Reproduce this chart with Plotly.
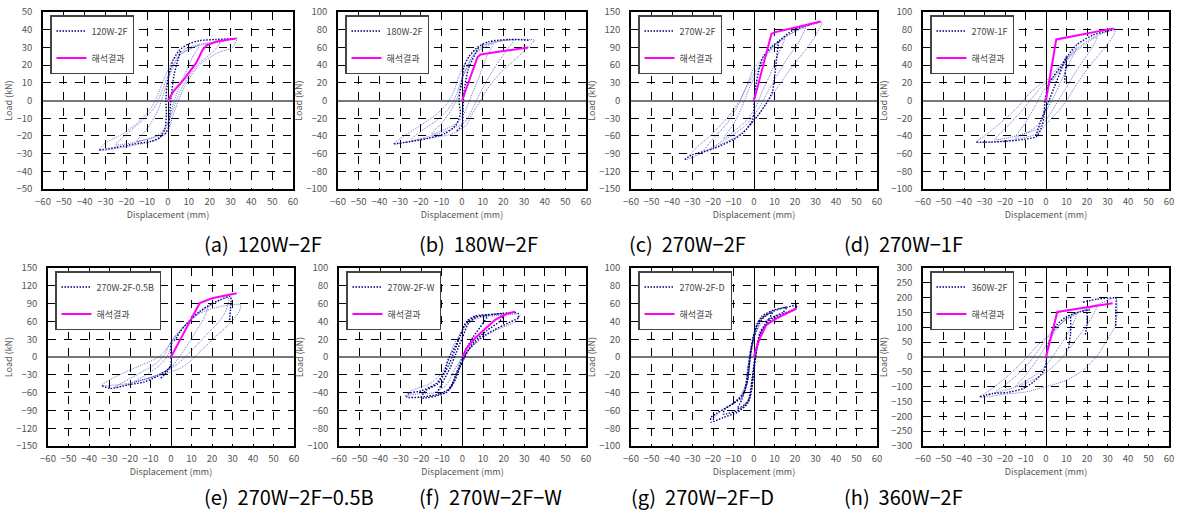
import plotly.graph_objects as go

# (a) 120W-2F
a_dark_x = [-33, -25, -16, -8, -4, -1.5, -0.8, -1, -0.5, 0.5, 2.5, 5.5, 10, 15, 23, 33, None,
            6, 3, 1.5, 0.8, 0.3, -2]
a_dark_y = [-28, -26.5, -24.5, -23, -21, -16, -8, 0, 8, 15, 23, 28.5, 32, 33.8, 34.5, 35, None,
            28, 15, 2, -8, -15, -20]
a_light_x = [33, 31, 24, 15, 9, 5, 2, 0, -5, -15, -33, -30, -22, -14, -8, -5, -2, 2, 8, 16, 25, 33, None,
             25, 22, 14, 8, 4, 1, -3, -10, -25, -20, -12, -6, -3, 0, 5, 12, 25, None,
             15, 12, 7, 3, 0, -4, -15, -10, -5, -2, 1, 6, 15]
a_light_y = [35, 30, 27, 20, 10, 0, -10, -17, -22, -25, -28, -24, -19, -12, -4, 3, 12, 22, 29, 32, 33, 35, None,
             33, 28, 20, 10, 0, -10, -19, -22, -25, -19, -11, -3, 5, 14, 25, 30, 33, None,
             31, 25, 12, 0, -12, -19, -23, -16, -6, 4, 15, 26, 31]
a_fem_x = [0, 2.5, 8, 13.7, 16.6, 18.5, 23.3, 32.5]
a_fem_y = [0, 5, 12.5, 21.5, 28.6, 31.2, 33.3, 35]

# (b) 180W-2F
b_dark_x = [-33, -24, -16, -8, -3, -0.8, -1.5, -1, 0, 1, 3.4, 8, 13, 23, 33, None, 8, 3, 1, 0.5, 0, -3]
b_dark_y = [-49, -46, -42.5, -37, -28, -15, 0, 10, 23, 38, 50, 61, 66.5, 69, 68, None, 60, 35, 10, -10, -28, -35]
b_light_x = [35, 32, 25, 18, 12, 9, 5, 2, -5, -15, -33, -28, -20, -12, -7, -4, -1, 3, 10, 20, 35, None,
             25, 22, 16, 11, 8, 5, 1, -8, -25, -20, -12, -6, -3, 0, 5, 12, 25, None,
             15, 12, 8, 5, 2, -2, -15, -10, -5, -2, 1, 6, 15]
b_light_y = [68, 60, 45, 30, 12, 0, -15, -28, -38, -42, -49, -40, -28, -15, -3, 10, 30, 48, 62, 68, 68, None,
             68, 58, 38, 18, 5, -10, -25, -35, -45, -35, -22, -8, 5, 25, 50, 63, 68, None,
             64, 50, 25, 8, -10, -25, -38, -26, -10, 5, 30, 52, 64]
b_fem_x = [0, 7.5, 9, 32]
b_fem_y = [0, 49, 52, 60]

# (c) 270W-2F
c_dark_x = [-33.8, -30, -20, -10, -5.4, -1.3, 0, 0, 1.1, 2.8, 4.4, 8.5, 12.5, 19, 32, None, 12, 11, 10, 9, 6, 2, -3]
c_dark_y = [-100, -92, -82, -66, -55, -38, -21, 0, 29, 57, 74, 91, 102, 119, 133, None, 100, 70, 40, 15, -5, -25, -45]
c_light_x = [33, 30, 25, 18, 12, 8, 4, 0, -8, -20, -33, -28, -20, -12, -7, -3, 0, 5, 12, 22, 33, None,
             25, 22, 16, 10, 6, 2, -5, -15, -25, -20, -13, -8, -4, 0, 6, 14, 25, None,
             15, 12, 8, 4, 1, -4, -15, -10, -6, -3, 1, 7, 15]
c_light_y = [133, 110, 85, 55, 25, 5, -15, -35, -60, -80, -100, -80, -55, -25, 0, 30, 55, 75, 100, 120, 133, None,
             125, 100, 70, 35, 10, -15, -45, -68, -88, -65, -38, -10, 20, 45, 80, 105, 125, None,
             105, 80, 45, 15, -10, -35, -65, -40, -12, 15, 45, 80, 105]
c_fem_x = [0, 8.5, 10, 32.5]
c_fem_y = [0, 113, 115.5, 134]

# (d) 270W-1F
d_dark_x = [-34, -27, -19, -11, -4.6, -2, -1, -0.5, 1, 3.6, 7.7, 11, 15, 23, 33.8, None, -5, -2, 1, 4, 8, 10, 9.5, 9]
d_dark_y = [-47, -47, -46, -44, -40.6, -29, -18, 0, 16, 27, 40, 51.5, 63, 74, 80.5, None, -40, -20, -3, 15, 38, 50, 35, 20]
d_light_x = [34, 32, 27, 20, 14, 10, 6, 2, -5, -18, -34, -30, -22, -14, -8, -3, 0, 5, 12, 22, 34, None,
             25, 22, 16, 10, 6, 2, -4, -25, -20, -12, -6, -2, 3, 10, 17, 25, None,
             15, 12, 8, 4, 0, -5, -15, -10, -5, -1, 4, 10, 15]
d_light_y = [80, 70, 55, 35, 15, 0, -12, -22, -38, -45, -47, -40, -25, -8, 8, 18, 22, 35, 52, 70, 80, None,
             72, 58, 38, 15, 0, -15, -32, -44, -32, -12, 5, 16, 25, 45, 60, 72, None,
             60, 45, 25, 5, -12, -30, -42, -25, -5, 12, 25, 45, 60]
d_fem_x = [0, 5, 33]
d_fem_y = [0, 69, 81.5]

# (e) 270W-2F-0.5B
e_dark_x = [-33.6, -29.5, -21, -13, -7, -2, 0, 0, 0.3, 2, 4.5, 9.4, 14, 19, 24, 29, 29, 28.5, None, -5, -2, 0]
e_dark_y = [-48.5, -53, -47, -42, -33, -22, -13.5, 0, 27, 29, 43, 62.6, 77, 88, 96.5, 102, 80, 60, None, -36, -25, -15]
e_light_x = [34, 33, 29, 22, 15, 10, 5, 0, -10, -22, -34, -28, -20, -12, -6, -2, 2, 8, 15, 24, 34, None,
             28, 27, 24, 18, 12, 7, 2, -5, -15, -28, -22, -14, -7, -3, 0, 6, 14, 21, 28, None,
             18, 16, 12, 8, 4, 0, -8, -18, -12, -6, -2, 1, 6, 12, 18]
e_light_y = [88, 75, 58, 35, 12, -5, -18, -25, -35, -45, -48, -35, -22, -10, 0, 15, 35, 58, 75, 85, 88, None,
             100, 80, 62, 40, 18, 0, -15, -28, -40, -52, -40, -25, -10, 5, 25, 50, 75, 90, 100, None,
             85, 65, 42, 20, 0, -18, -32, -42, -30, -15, 0, 25, 50, 70, 85]
e_fem_x = [0, 14, 20, 32]
e_fem_y = [0, 91, 99, 107.5]

# (f) 270W-2F-W
f_dark_x = [27, 27, 22, 15, 8, 3, 0, -3, -6, -12, -20, -27, -26, -20, -13, -9, -7, -4, -1, 2, 6, 15, 25, 27, None,
            20, 18, 12, 6, 2, -1, -4, -8, -20, -18, -12, -8, -5, -2, 1, 5, 12, 20, None,
            12, 10, 5, 1, -2, -5, -8, -12, -10, -6, -3, 0, 3, 7, 12]
f_dark_y = [49, 44, 38, 30, 20, 8, -5, -20, -35, -42, -45, -45, -41, -38, -30, -18, -3, 10, 25, 40, 46, 48, 50, 49, None,
            48, 40, 30, 18, 5, -10, -28, -40, -46, -38, -30, -15, 0, 18, 35, 44, 47, 48, None,
            46, 38, 22, 5, -12, -30, -40, -40, -30, -12, 5, 22, 38, 45, 46]
f_light_x = [28, 26, 18, 10, 4, 0, -4, -8, -14, -24, -28, -25, -16, -10, -7, -6, -4, 0, 4, 10, 20, 28]
f_light_y = [48, 40, 32, 22, 10, 0, -15, -32, -40, -42, -44, -38, -30, -18, -5, 2, 15, 30, 40, 45, 47, 48]
f_fem_x = [0, 2, 6, 11, 16, 21, 25.6]
f_fem_y = [0, 10, 21, 32, 42, 48, 51]

# (g) 270W-2F-D
g_dark_x = [21, 20, 15, 9, 4, 1.5, 0, -1, -3, -8, -15, -21, -21, -18, -12, -6, -3, -2, -0.5, 1.5, 4, 10, 16, 21, None,
            16, 14, 8, 3, 1, -0.5, -2, -6, -15, -14, -10, -5, -3, -1.5, 0.5, 3, 8, 16, None,
            9, 7, 3, 0.5, -1, -3, -8, -6, -3.5, -2, -0.5, 2, 5, 9]
g_dark_y = [58, 54, 49, 43, 30, 10, -15, -35, -52, -62, -68, -73, -68, -63, -55, -45, -25, 0, 20, 37, 46, 53, 56, 58, None,
            56, 50, 43, 28, 5, -20, -45, -58, -64, -58, -52, -40, -15, 10, 30, 42, 50, 56, None,
            50, 42, 25, 0, -25, -50, -58, -48, -30, -5, 18, 35, 45, 50]
g_light_x = [-20, -16, -10, -7, -4, -3, -1, 1, 4, 9, 15, 20]
g_light_y = [-70, -60, -52, -45, -30, -10, 10, 28, 38, 45, 50, 55]
g_fem_x = [0, 1.1, 2.8, 6, 11, 16, 20.8]
g_fem_y = [0, 10, 21, 36, 43.5, 49, 54.5]

# (h) 360W-2F
h_dark_x = [-32.3, -25.8, -19, -11, -6, -1.3, 0, 0.5, 2, 5.2, 10, 16.6, 21.5, None,
            18, 25, 33, 34, 34, 34, None, 12, 12, 11, None, 20, 20, 19]
h_dark_y = [-134, -123, -119.5, -106, -83, -50, -20, 20, 63, 108, 136, 153, 159, None,
            185, 195, 200, 200, 150, 103, None, 135, 80, 30, None, 160, 110, 70]
h_light_x = [34, 34, 30, 25, 18, 10, 0, -10, -20, -32, -25, -18, -12, -8, -4, 0, 5, 12, 20, 28, 34, None,
             25, 22, 17, 12, 8, 3, -3, -12, -25, -20, -14, -9, -5, -1, 4, 10, 17, 25, None,
             15, 13, 9, 5, 1, -4, -15, -11, -7, -3, 1, 6, 10, 15]
h_light_y = [200, 110, 60, 5, -45, -78, -100, -118, -125, -135, -100, -60, -20, 10, 40, 65, 100, 135, 160, 185, 200, None,
             175, 130, 80, 35, 0, -35, -65, -95, -120, -95, -60, -25, 10, 50, 90, 130, 155, 175, None,
             150, 110, 60, 20, -20, -55, -100, -70, -35, 5, 50, 100, 130, 150]
h_fem_x = [0, 5.5, 32.5]
h_fem_y = [0, 152, 181]

specimens = ["120W-2F", "180W-2F", "270W-2F", "270W-1F",
             "270W-2F-0.5B", "270W-2F-W", "270W-2F-D", "360W-2F"]
captions = ["(a)  120W−2F", "(b)  180W−2F", "(c)  270W−2F", "(d)  270W−1F",
            "(e)  270W−2F−0.5B", "(f)  270W−2F−W", "(g)  270W−2F−D", "(h)  360W−2F"]
y_max = [50, 100, 150, 100, 150, 100, 100, 300]
y_step = [10, 20, 30, 20, 30, 20, 20, 50]

curves = [
    (a_dark_x, a_dark_y, a_light_x, a_light_y, a_fem_x, a_fem_y),
    (b_dark_x, b_dark_y, b_light_x, b_light_y, b_fem_x, b_fem_y),
    (c_dark_x, c_dark_y, c_light_x, c_light_y, c_fem_x, c_fem_y),
    (d_dark_x, d_dark_y, d_light_x, d_light_y, d_fem_x, d_fem_y),
    (e_dark_x, e_dark_y, e_light_x, e_light_y, e_fem_x, e_fem_y),
    (f_dark_x, f_dark_y, f_light_x, f_light_y, f_fem_x, f_fem_y),
    (g_dark_x, g_dark_y, g_light_x, g_light_y, g_fem_x, g_fem_y),
    (h_dark_x, h_dark_y, h_light_x, h_light_y, h_fem_x, h_fem_y),
]

W, H = 1177, 514
FONT = "Noto Sans CJK KR"
# plot areas in pixels: left, right, top, bottom
boxes = [(43, 293, 12, 189), (338, 586, 12, 189), (631, 877, 12, 189), (923, 1169, 12, 189),
         (48, 294, 268, 446), (339, 586, 268, 446), (631, 877, 268, 446), (923, 1169, 268, 446)]
caption_x = [202, 417, 627, 842, 202, 417, 629, 842]
caption_y = [243, 243, 243, 243, 496, 496, 496, 496]


def px(v):
    return v / W


def py(v):
    return 1 - v / H


fig = go.Figure()
layout = {}
for i in range(8):
    n = "" if i == 0 else str(i + 1)
    dx, dy, lx, ly, fx, fy = curves[i]
    lg = "legend" + n
    fig.add_trace(go.Scatter(x=lx, y=ly, mode="lines", xaxis="x" + n, yaxis="y" + n,
                             line=dict(color="rgba(60,60,185,0.7)", width=1, dash="1px,1px",
                                       shape="spline", smoothing=0.7),
                             showlegend=False, hoverinfo="skip"))
    fig.add_trace(go.Scatter(x=dx, y=dy, mode="lines", xaxis="x" + n, yaxis="y" + n,
                             name=specimens[i], legend=lg, legendgroup="exp" + n,
                             line=dict(color="#000080", width=1.4, dash="1.5px,1.5px",
                                       shape="spline", smoothing=0.7)))
    fig.add_trace(go.Scatter(x=fx, y=fy, mode="lines", xaxis="x" + n, yaxis="y" + n,
                             name="해석결과", legend=lg, legendgroup="fem" + n,
                             line=dict(color="#ff00ff", width=2)))

    l, r, t, b = boxes[i]
    axis_common = dict(showgrid=True, gridcolor="black", gridwidth=1, griddash="8px,8px",
                       showline=True, mirror=True, linecolor="black", linewidth=1.5,
                       automargin=False, ticks="", ticklabeloverflow="allow",
                       tickfont=dict(size=9.5, color="#555", family=FONT))
    layout["xaxis" + n] = dict(axis_common, domain=[px(l), px(r)], anchor="y" + n,
                               range=[-60, 60], tick0=0, dtick=10, ticklabelstandoff=3,
                               zeroline=True, zerolinecolor="black", zerolinewidth=1,
                               title=dict(text="Displacement (mm)", standoff=4,
                                          font=dict(size=9, color="#555", family=FONT)))
    layout["yaxis" + n] = dict(axis_common, domain=[py(b), py(t)], anchor="x" + n,
                               range=[-y_max[i], y_max[i]], tick0=0, dtick=y_step[i],
                               ticklabelstandoff=7,
                               zeroline=True, zerolinecolor="#777", zerolinewidth=2,
                               title=dict(text="Load (kN)", standoff=2,
                                          font=dict(size=9, color="#555", family=FONT)))
    layout[lg] = dict(x=px(l + 7), y=py(t + 3), xref="paper", yref="paper",
                      xanchor="left", yanchor="top", bgcolor="white",
                      bordercolor="#444", borderwidth=1.5, traceorder="grouped",
                      tracegroupgap=8, itemwidth=30,
                      font=dict(size=9, color="#444", family=FONT))

annotations = []
for i in range(8):
    annotations.append(dict(text=captions[i], x=px(caption_x[i]), y=py(caption_y[i]),
                            xref="paper", yref="paper", xanchor="left", yanchor="middle",
                            showarrow=False, font=dict(size=20, color="black", family=FONT)))

fig.update_layout(**layout)
fig.update_layout(width=W, height=H, margin=dict(l=0, r=0, t=0, b=0),
                  paper_bgcolor="white", plot_bgcolor="white",
                  annotations=annotations)
# drop the default 8px page margin so the figure fills the window exactly
fig.write_html("out.html", config={"displayModeBar": False},
               post_script="document.body.style.margin = '0';")
